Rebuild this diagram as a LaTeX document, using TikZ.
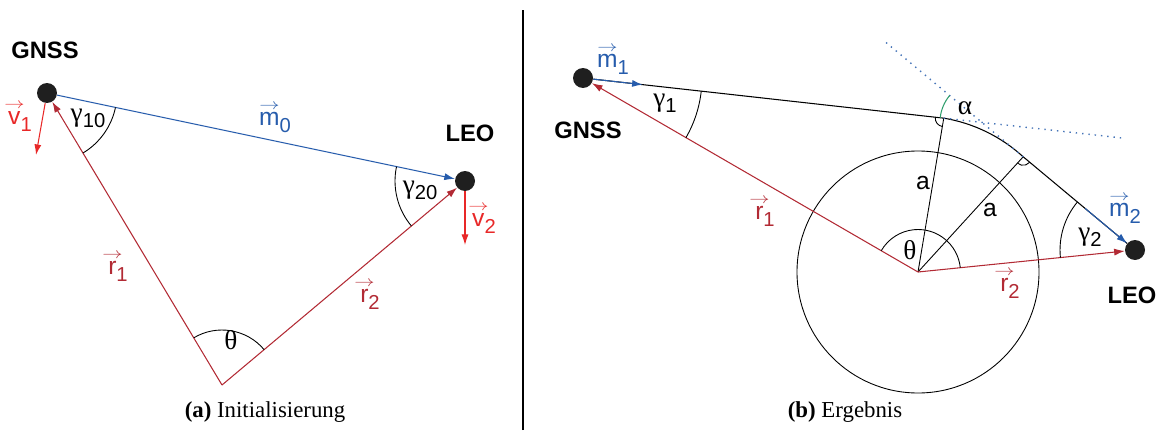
\documentclass[tikz,border=0pt]{standalone}
\usepackage{fontspec}
\setmainfont{Liberation Serif}
\setsansfont{Liberation Sans}
\usetikzlibrary{arrows.meta,calc,angles}

\definecolor{vecred}{RGB}{178,42,52}
\definecolor{velred}{RGB}{232,40,40}
\definecolor{vecblue}{RGB}{38,92,172}
\definecolor{alphagreen}{RGB}{46,158,108}

\tikzset{
  sat/.style={circle, fill=black!88, inner sep=0pt, minimum size=0.4cm},
  satname/.style={font=\sffamily\bfseries\fontsize{13.5}{15}\selectfont},
  lbl/.style={font=\sffamily\fontsize{14}{16}\selectfont, inner sep=1pt},
  grk/.style={font=\rmfamily\fontsize{15.5}{17}\selectfont, inner sep=1pt},
  caption/.style={font=\rmfamily\fontsize{13}{15}\selectfont},
  posvec/.style={->, vecred, line width=0.6pt},
  velvec/.style={->, velred, line width=0.6pt},
  losvec/.style={->, vecblue, line width=0.6pt},
  anglearc/.style={draw, line width=0.5pt},
  asym/.style={vecblue!85, line width=0.8pt, dash pattern=on 0.8pt off 2.8pt},
}
\newcommand{\lowsub}[1]{\raisebox{-0.5ex}{\sffamily\fontsize{11.5}{12}\selectfont #1}}
\newcommand{\vecsym}[2]{\leavevmode\ooalign{\hidewidth\raisebox{0.66em}{\scalebox{0.8}[0.6]{$\rightarrow$}}\hidewidth\cr#1\cr}\lowsub{#2}}

\begin{document}
\begin{tikzpicture}[x=0.02cm, y=0.02cm, >={Latex[length=6pt,width=4pt]}]
    \useasboundingbox (0,0) rectangle (1156,430);

    % (a) Initialisierung
    \node[sat] (gnssA) at (47,337) {};
    \node[sat] (leoA) at (465,249) {};
    \coordinate (baseA) at (222,45);
    \node[satname] (gnssAname) at (45,380) {GNSS};
    \node[satname] (leoAname) at (470,297) {LEO};

    \draw[posvec] (baseA) -- (gnssA);
    \draw[posvec] (baseA) -- (leoA);
    \draw[losvec] (gnssA) -- (leoA);
    \coordinate (velA) at (36,275);
    \coordinate (velB) at (465,185);
    \draw[velvec] (gnssA) -- (velA);
    \draw[velvec] (leoA) -- (velB);

    \pic[anglearc, angle radius=1.1cm] {angle=leoA--baseA--gnssA};
    \pic[anglearc, angle radius=1.4cm] {angle=baseA--gnssA--leoA};
    \pic[anglearc, angle radius=1.4cm] {angle=gnssA--leoA--baseA};

    \node[grk] (thetaA) at (231,90) {θ};
    \node[grk] (gamAa) at (88,312) {γ\lowsub{10}};
    \node[grk] (gamAb) at (420,240) {γ\lowsub{20}};
    \node[lbl, vecblue] (mA) at (275,312) {\vecsym{m}{0}};
    \node[lbl, vecred] (rAa) at (118,163) {\vecsym{r}{1}};
    \node[lbl, vecred] (rAb) at (370,135) {\vecsym{r}{2}};
    \node[lbl, velred] (vAa) at (20,313) {\vecsym{v}{1}};
    \node[lbl, velred] (vAb) at (484,211) {\vecsym{v}{2}};
    \node[caption] (capA) at (265,18) {\textbf{(a)} Initialisierung};

    % Trennlinie
    \draw[line width=0.6pt] (523,0) -- (523,420);

    % (b) Ergebnis
    \coordinate (earthB) at (918,158);
    \node[sat] (gnssB) at (583,352) {};
    \node[sat] (leoB) at (1135,180) {};
    \node[satname] (gnssBname) at (588,300) {GNSS};
    \node[satname] (leoBname) at (1132,135) {LEO};

    \draw[line width=0.5pt] (earthB) circle (121);
    \coordinate (enterB) at ($(earthB)+(80.5:156)$);
    \coordinate (exitB) at ($(earthB)+(47.6:156)$);
    \draw[line width=0.6pt] (gnssB) -- (enterB) arc[start angle=80.5, end angle=47.6, radius=156] -- (leoB);
    \draw[losvec] (gnssB) -- ($(gnssB)!1.2cm!(enterB)$);
    \draw[losvec] ($(leoB)!1.3cm!(exitB)$) -- (leoB);

    \draw[line width=0.5pt] (earthB) -- (enterB);
    \draw[line width=0.5pt] (earthB) -- (exitB);
    \draw[posvec] (earthB) -- (gnssB);
    \draw[posvec] (earthB) -- (leoB);

    % Asymptoten
    \coordinate (asymA) at ($(gnssB)!1.5!(enterB)$);
    \coordinate (asymB) at ($(leoB)!2.23!(exitB)$);
    \draw[asym] (enterB) -- (asymA);
    \draw[asym] (exitB) -- (asymB);
    \coordinate (crossB) at (intersection of enterB--asymA and exitB--asymB);
    \pic[draw=alphagreen, line width=0.6pt, angle radius=0.84cm] {angle=asymB--crossB--gnssB};

    \pic[anglearc, angle radius=0.17cm] {angle=gnssB--enterB--earthB};
    \pic[anglearc, angle radius=0.17cm] {angle=earthB--exitB--leoB};
    \pic[anglearc, angle radius=0.85cm] {angle=leoB--earthB--gnssB};
    \pic[anglearc, angle radius=2.38cm] {angle=earthB--gnssB--enterB};
    \pic[anglearc, angle radius=1.5cm] {angle=exitB--leoB--earthB};

    \node[grk] (alphaB) at (965,322) {α};
    \node[grk] (thetaB) at (910,180) {θ};
    \node[grk] (gamBa) at (665,327) {γ\lowsub{1}};
    \node[grk] (gamBb) at (1090,193) {γ\lowsub{2}};
    \node[lbl] (aBa) at (923,247) {a};
    \node[lbl] (aBb) at (990,220) {a};
    \node[lbl, vecblue] (mBa) at (613,370) {\vecsym{m}{1}};
    \node[lbl, vecblue] (mBb) at (1125,221) {\vecsym{m}{2}};
    \node[lbl, vecred] (rBa) at (765,218) {\vecsym{r}{1}};
    \node[lbl, vecred] (rBb) at (1010,146) {\vecsym{r}{2}};
    \node[caption] (capB) at (845,18) {\textbf{(b)} Ergebnis};
\end{tikzpicture}
\end{document}
